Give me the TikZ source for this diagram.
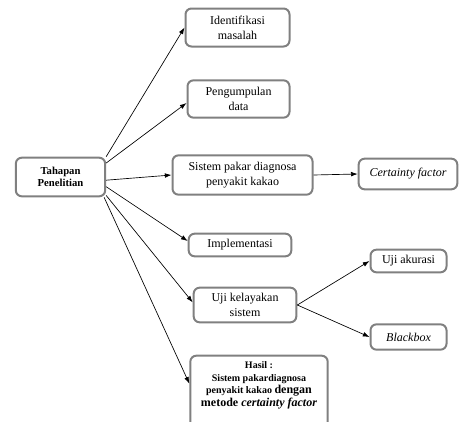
\documentclass[tikz,border=0pt]{standalone}
\usepackage{fontspec}
\setmainfont{Liberation Serif}
\usetikzlibrary{arrows.meta}

\begin{document}
\begin{tikzpicture}[
  x=0.75pt, y=-0.75pt,
  box/.style={draw=gray, line width=1.5pt, rounded corners=4.5pt, align=center,
    inner sep=1pt, font=\fontsize{9}{11}\selectfont},
  arrow/.style={-{Latex[length=5pt,width=3.5pt]}, line width=0.5pt}
]
\useasboundingbox (0,0) rectangle (459,421);

% Nodes
\node[box, minimum width=67pt, minimum height=29pt,
  font=\bfseries\fontsize{8}{9.5}\selectfont] (tahap) at (60.5,177) {Tahapan\\Penelitian};
\node[box, minimum width=78pt, minimum height=28.5pt] (ident) at (237.5,27.5) {Identifikasi\\masalah};
\node[box, minimum width=76.5pt, minimum height=28pt] (kumpul) at (238.5,99) {Pengumpulan\\data};
\node[box, minimum width=105pt, minimum height=29.5pt] (pakar) at (242.5,175) {Sistem pakar diagnosa\\penyakit kakao};
\node[box, minimum width=74pt, minimum height=23pt] (cf) at (408,174) {\itshape Certainty factor};
\node[box, minimum width=77pt, minimum height=17pt] (impl) at (240,245) {Implementasi};
\node[box, minimum width=77pt, minimum height=26pt] (ujik) at (245,305) {Uji kelayakan\\sistem};
\node[box, minimum width=57pt, minimum height=17pt] (akur) at (408.5,261) {Uji akurasi};
\node[box, minimum width=57pt, minimum height=19pt] (bbox) at (408.5,337) {\itshape Blackbox};
\node[box, minimum width=103pt, minimum height=56pt,
  font=\bfseries\fontsize{7.5}{9.5}\selectfont] (hasil) at (259,393)
  {Hasil :\\Sistem pakardiagnosa\\penyakit kakao {\fontsize{9}{9.5}\selectfont dengan}\\
   {\fontsize{9}{9.5}\selectfont metode \textit{certainty factor}}\\[4pt]};

% Pointers
\draw[arrow] (tahap.north east) -- (ident.west);
\draw[arrow] (tahap.17) -- ([yshift=-3pt]kumpul.west);
\draw[arrow] (tahap.-4) -- (pakar.west);
\draw[arrow] (tahap.-12) -- ([yshift=3pt]impl.west);
\draw[arrow] (tahap.-22) -- ([yshift=2pt]ujik.west);
\draw[arrow] (tahap.-25) -- ([yshift=7pt]hasil.west);
\draw[arrow] (pakar.east) -- (cf.west);
\draw[arrow] (ujik.east) -- (akur.west);
\draw[arrow] (ujik.east) -- (bbox.west);
\end{tikzpicture}
\end{document}
